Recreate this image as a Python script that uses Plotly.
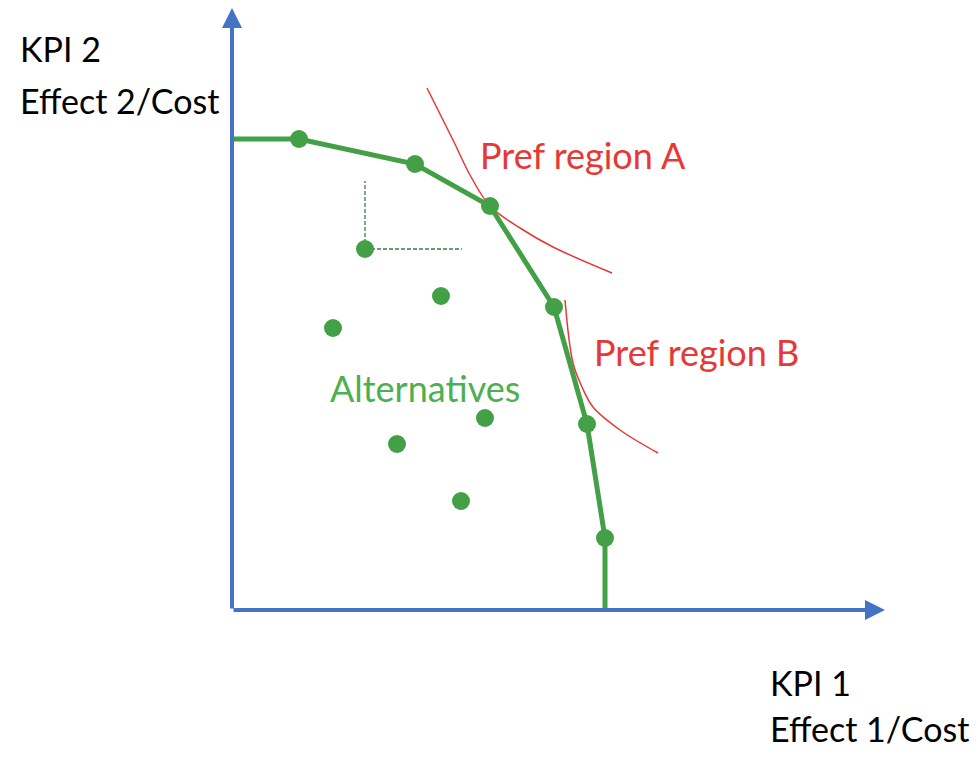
import plotly.graph_objects as go

# Pareto front (KPI1, KPI2)
front_x = [0.0, 6.7, 18.3, 25.8, 32.2, 35.5, 37.3, 37.3]
front_y = [47.1, 47.1, 44.6, 40.4, 30.3, 18.6, 7.2, 0.0]
front_marker_x = front_x[1:7]
front_marker_y = front_y[1:7]

# Dominated alternatives
alt_x = [13.3, 20.9, 10.1, 25.3, 16.5, 22.9]
alt_y = [36.1, 31.4, 28.2, 19.2, 16.6, 10.9]

# Dominance guide lines
guide_v_x = [13.3, 13.3]
guide_v_y = [36.1, 42.9]
guide_h_x = [13.3, 23.0]
guide_h_y = [36.1, 36.1]

# Preference curves
prefA_x = [19.5, 22.1, 23.8, 25.8, 28.8, 32.1, 38.0]
prefA_y = [52.2, 47.0, 43.5, 40.4, 38.2, 36.3, 33.7]
prefB_x = [33.3, 34.1, 35.0, 36.1, 38.8, 42.6]
prefB_y = [31.0, 24.7, 22.3, 20.3, 18.0, 15.7]

GREEN = "#43A047"
RED = "#E53935"
BLUE = "#4472C4"
FONT = "Lato"

fig = go.Figure()

fig.add_trace(go.Scatter(x=guide_v_x, y=guide_v_y, mode="lines",
                         line=dict(color="#3F7A48", width=1.3, dash="4px,2px"), hoverinfo="skip"))
fig.add_trace(go.Scatter(x=guide_h_x, y=guide_h_y, mode="lines",
                         line=dict(color="#3F7A48", width=1.3, dash="4px,2px"), hoverinfo="skip"))
fig.add_trace(go.Scatter(x=prefA_x, y=prefA_y, mode="lines", line_shape="spline",
                         line=dict(color=RED, width=1.5)))
fig.add_trace(go.Scatter(x=prefB_x, y=prefB_y, mode="lines", line_shape="spline",
                         line=dict(color=RED, width=1.5)))
fig.add_trace(go.Scatter(x=front_x, y=front_y, mode="lines",
                         line=dict(color=GREEN, width=5)))
fig.add_trace(go.Scatter(x=front_marker_x, y=front_marker_y, mode="markers",
                         marker=dict(color=GREEN, size=18)))
fig.add_trace(go.Scatter(x=alt_x, y=alt_y, mode="markers",
                         marker=dict(color=GREEN, size=18)))

# Axes with arrows
fig.add_annotation(x=65.3, y=0, ax=0, ay=0, xref="x", yref="y", axref="x", ayref="y",
                   showarrow=True, arrowhead=2, arrowsize=1, arrowwidth=4, arrowcolor=BLUE, text="")
fig.add_annotation(x=0, y=60.2, ax=0, ay=0, xref="x", yref="y", axref="x", ayref="y",
                   showarrow=True, arrowhead=2, arrowsize=1, arrowwidth=4, arrowcolor=BLUE, text="")

texts = [
    ("KPI 2", -21.4, 56.2, "black", 34),
    ("Effect 2/Cost", -21.4, 51.0, "black", 34),
    ("Pref region A", 24.6, 45.5, RED, 36),
    ("Pref region B", 36.0, 25.8, RED, 36),
    ("Alternatives", 9.6, 22.2, "#4CAF50", 36),
    ("KPI 1", 53.6, -7.2, "black", 34),
    ("Effect 1/Cost", 53.6, -11.8, "black", 34),
]
for t, x, y, c, s in texts:
    fig.add_annotation(x=x, y=y, text=t, showarrow=False, xanchor="left", yanchor="middle",
                       font=dict(family=FONT, size=s, color=c))

fig.update_layout(
    width=980, height=758, showlegend=False,
    margin=dict(l=0, r=0, t=0, b=0),
    plot_bgcolor="white", paper_bgcolor="white",
    xaxis=dict(range=[-22.4, 75.6], visible=False, fixedrange=True),
    yaxis=dict(range=[-15.6, 60.2], visible=False, fixedrange=True),
)

fig.write_html("out.html")
